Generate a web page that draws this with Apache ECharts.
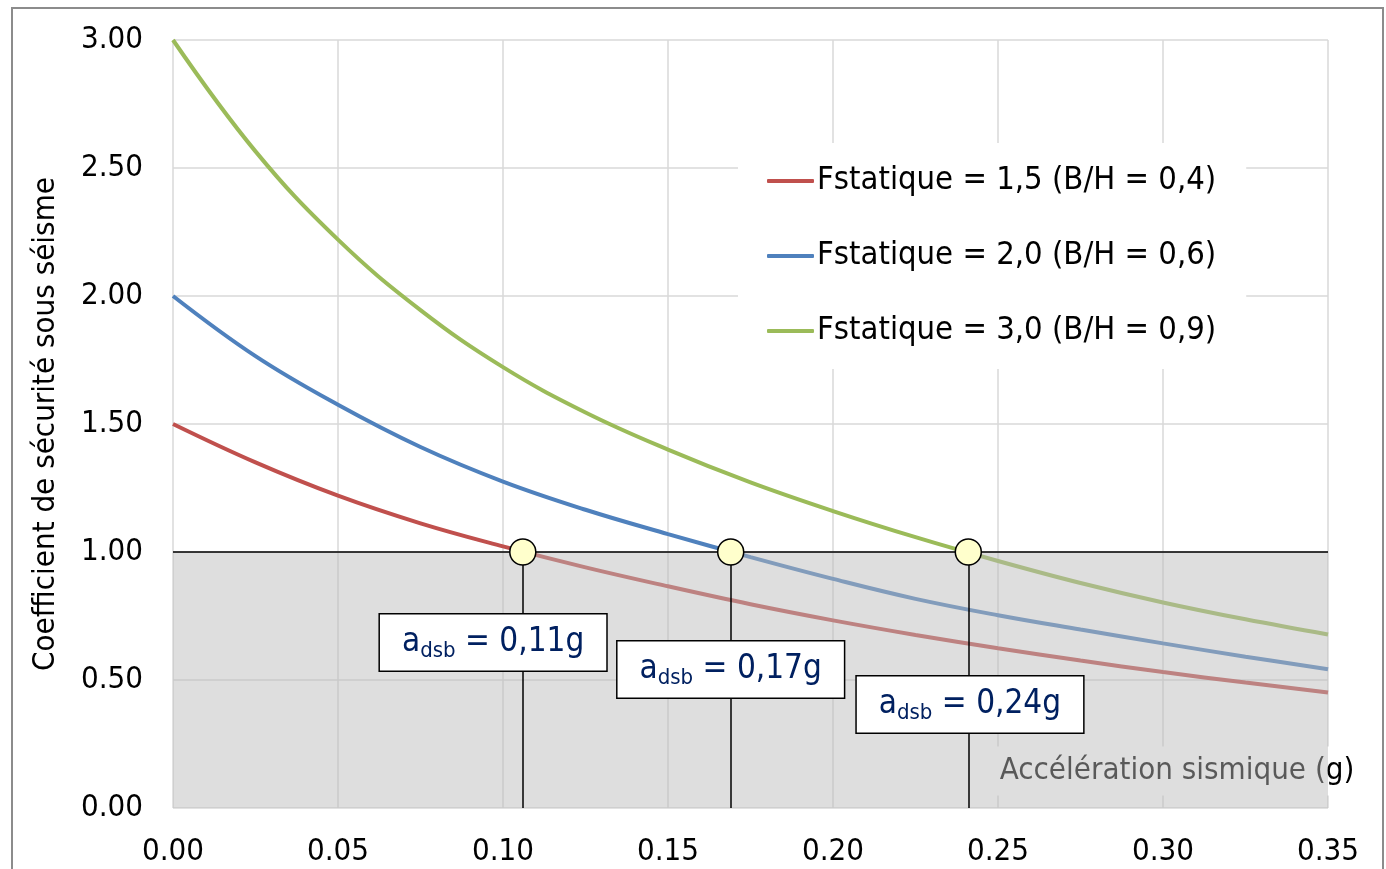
<!DOCTYPE html>
<html>
<head>
<meta charset="utf-8">
<script src="https://cdn.jsdelivr.net/npm/echarts@6/dist/echarts.min.js"></script>
<style>
html,body{margin:0;padding:0;background:#fff;}
#chart{width:1386px;height:869px;}
</style>
</head>
<body>
<div id="chart"></div>
<script>
// ---- data ----
const accel = [0, 0.025, 0.05, 0.075, 0.10, 0.125, 0.15, 0.175, 0.20, 0.225, 0.25, 0.275, 0.30, 0.325, 0.35];
const fsRed   = [1.50, 1.35, 1.22, 1.112, 1.022, 0.940, 0.866, 0.796, 0.733, 0.676, 0.624, 0.576, 0.531, 0.490, 0.451];
const fsBlue  = [2.00, 1.765, 1.575, 1.41, 1.275, 1.165, 1.07, 0.98, 0.895, 0.817, 0.753, 0.697, 0.643, 0.591, 0.542];
const fsGreen = [3.00, 2.565, 2.22, 1.945, 1.722, 1.545, 1.40, 1.272, 1.16, 1.058, 0.965, 0.879, 0.803, 0.737, 0.678];
const seriesNames = ['Fstatique = 1,5 (B/H = 0,4)', 'Fstatique = 2,0 (B/H = 0,6)', 'Fstatique = 3,0 (B/H = 0,9)'];
const seriesColors = ['#C0504D', '#4F81BD', '#9BBB59'];
const limitFs = 1.0;
const crossX = [0.106, 0.169, 0.241];
const crossText = ['0,11g', '0,17g', '0,24g'];
const labelX = [0.097, 0.169, 0.2415];
const labelY = [0.646, 0.541, 0.404];
const xTitle = 'Accélération sismique (g)';
const yTitle = 'Coefficient de sécurité sous séisme';

const FONT = '"DejaVu Sans Condensed", "DejaVu Sans", sans-serif';
const chart = echarts.init(document.getElementById('chart'));

const curves = [fsRed, fsBlue, fsGreen].map((vals, i) => ({
  name: seriesNames[i],
  type: 'line',
  data: accel.map((x, j) => [x, vals[j]]),
  smooth: 0.4,
  symbol: 'none',
  z: 2,
  lineStyle: { color: seriesColors[i], width: 4 },
  itemStyle: { color: seriesColors[i] }
}));

const option = {
  animation: false,
  backgroundColor: '#fff',
  grid: { left: 173, right: 58, top: 40, bottom: 61, containLabel: false },
  legend: {
    data: seriesNames.map(n => ({ name: n, icon: 'roundRect' })),
    orient: 'vertical',
    left: 738, top: 143,
    padding: [20, 30, 20, 29],
    backgroundColor: '#fff',
    itemGap: 39,
    itemWidth: 47, itemHeight: 4,
    itemStyle: { borderWidth: 0 },
    textStyle: { fontFamily: FONT, fontSize: 32.5, color: '#000', lineHeight: 36, padding: [0, 0, 0, -2] }
  },
  xAxis: {
    type: 'value', min: 0, max: 0.35, interval: 0.05,
    axisLine: { show: false }, axisTick: { show: false },
    axisLabel: { margin: 28, fontFamily: FONT, fontSize: 31, color: '#000', formatter: v => v.toFixed(2) },
    splitLine: { show: true, lineStyle: { color: '#d9d9d9', width: 1.5 } }
  },
  yAxis: {
    type: 'value', min: 0, max: 3, interval: 0.5,
    name: yTitle, nameLocation: 'middle', nameGap: 112, nameRotate: 90,
    nameTextStyle: { fontFamily: FONT, fontSize: 31, color: '#000' },
    axisLine: { show: false }, axisTick: { show: false },
    axisLabel: { margin: 30, fontFamily: FONT, fontSize: 31, color: '#000', formatter: v => v.toFixed(2) },
    splitLine: { show: true, lineStyle: { color: '#d9d9d9', width: 1.5 } }
  },
  graphic: [
    { type: 'rect', silent: true, z: 0, shape: { x: 12, y: 8, width: 1371, height: 900 },
      style: { fill: 'none', stroke: '#8c8c8c', lineWidth: 2 } },
    { type: 'text', silent: true, z: 1, x: 1177, y: 771,
      style: { text: xTitle, font: '31px ' + FONT, fill: '#000', align: 'center', verticalAlign: 'middle',
               backgroundColor: '#fff', padding: [9, 7] } }
  ],
  series: [
    ...curves,
    {
      name: 'shade', type: 'scatter', data: [], z: 3, silent: true,
      markArea: {
        silent: true, z: 3,
        itemStyle: { color: 'rgba(186,186,186,0.48)' },
        data: [[{ coord: [accel[0], 0] }, { coord: [accel[accel.length - 1], limitFs] }]]
      }
    },
    {
      name: 'guides', type: 'scatter', data: [], z: 4, silent: true,
      markLine: {
        silent: true, z: 4, symbol: ['none', 'none'],
        label: { show: false },
        lineStyle: { color: '#000', width: 1.5, type: 'solid' },
        data: [{ yAxis: limitFs }].concat(crossX.map(x => [{ coord: [x, 0] }, { coord: [x, limitFs] }]))
      }
    },
    {
      name: 'points', type: 'scatter', z: 5, silent: true,
      data: crossX.map(x => [x, limitFs]),
      symbol: 'circle', symbolSize: 26,
      itemStyle: { color: '#ffffcc', borderColor: '#000', borderWidth: 1.5, opacity: 1 }
    },
    {
      name: 'labels', type: 'scatter', z: 6, silent: true,
      data: labelX.map((x, i) => [x, labelY[i], crossText[i]]),
      symbolSize: 1, itemStyle: { color: 'rgba(0,0,0,0)', opacity: 1 },
      label: {
        show: true, position: 'inside',
        formatter: p => '{a|a}{s|dsb}{a| = ' + p.value[2] + '}',
        backgroundColor: '#fff', borderColor: '#000', borderWidth: 1.5,
        padding: [8, 22, 8, 22],
        rich: {
          a: { fontFamily: FONT, fontSize: 33, color: '#002060', lineHeight: 40 },
          s: { fontFamily: FONT, fontSize: 22, color: '#002060', lineHeight: 14, verticalAlign: 'bottom' }
        }
      }
    }
  ]
};
chart.setOption(option);
</script>
</body>
</html>
